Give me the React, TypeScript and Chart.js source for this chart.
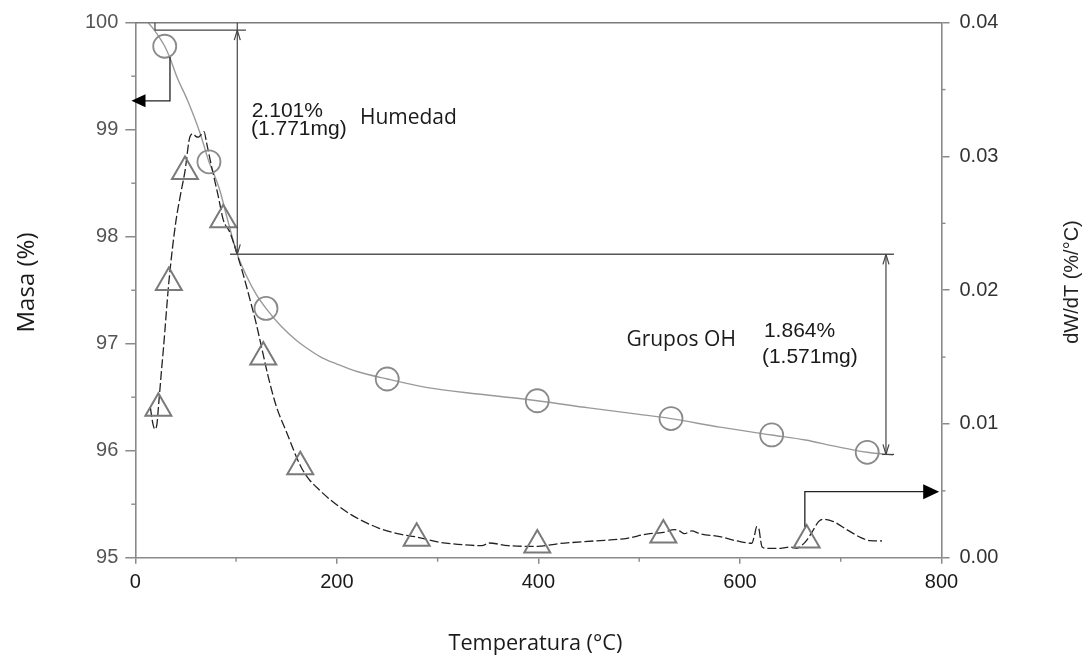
import React, { useEffect, useRef } from 'react';
import { Chart, registerables } from 'chart.js';
Chart.register(...registerables);

// ---- Data ----
const massT = [13, 21.2, 29.2, 34.4, 41, 52, 64.2, 73.1, 77.4, 84, 90.7, 101, 110, 120, 129.7, 145, 160, 170, 185, 200, 220, 250, 290, 340, 398.9, 450, 500, 531.6, 580, 631.5, 665, 695, 726.3, 752];
const massV = [100.0, 99.9, 99.78, 99.67, 99.5, 99.27, 98.97, 98.7, 98.6, 98.43, 98.19, 97.84, 97.64, 97.46, 97.33, 97.16, 97.03, 96.96, 96.87, 96.81, 96.74, 96.67, 96.59, 96.53, 96.467, 96.4, 96.34, 96.3, 96.22, 96.147, 96.1, 96.04, 95.985, 95.96];
const massMarkT = [29.2, 73.1, 129.7, 250, 398.9, 531.6, 631.5, 726.3];
const massMarkV = [99.78, 98.7, 97.33, 96.67, 96.467, 96.3, 96.147, 95.985];

const dtgT = [15, 17.5, 19.5, 21.5, 23, 26, 28, 33.3, 40, 45, 49.3, 54.3, 57.5, 60, 62.5, 65, 68.2, 70.8, 75.8, 82.4, 87.3, 94, 100.6, 107, 113.8, 120, 125.4, 132, 140, 150, 163.7, 172, 183.6, 194, 214.5, 242, 260, 279, 300, 320, 344, 351, 370, 399, 420, 454.8, 488, 507.6, 524, 535, 540, 545, 552, 560, 580, 600, 611.8, 614.5, 616.6, 619, 620.5, 622, 626.5, 640, 650, 656, 661, 666.2, 673, 678, 683, 692.8, 706, 712.7, 720, 729, 741];
const dtgV = [0.0112, 0.01, 0.0096, 0.01, 0.0113, 0.014, 0.0157, 0.0206, 0.025, 0.0272, 0.0289, 0.0315, 0.0317, 0.0315, 0.03144, 0.0316, 0.03186, 0.031, 0.0292, 0.027, 0.02526, 0.0243, 0.0228, 0.0212, 0.0193, 0.0175, 0.0157, 0.0135, 0.0113, 0.0094, 0.0069, 0.0059, 0.005, 0.0043, 0.0032, 0.0022, 0.0018, 0.00155, 0.00118, 0.001, 0.0009, 0.0011, 0.0009, 0.00085, 0.00105, 0.00125, 0.00145, 0.00177, 0.0019, 0.0021, 0.002, 0.0018, 0.002, 0.0018, 0.00157, 0.0012, 0.00108, 0.0017, 0.00232, 0.0021, 0.0013, 0.0008, 0.0007, 0.0007, 0.0008, 0.0007, 0.0009, 0.0013, 0.0021, 0.0027, 0.00287, 0.0027, 0.0021, 0.0018, 0.0015, 0.00127, 0.00125];
const dtgMarkT = [22.9, 33.3, 49.3, 87.3, 127, 163.7, 279.2, 398.9, 524, 666.2];
const dtgMarkV = [0.01117, 0.02057, 0.02887, 0.02526, 0.015, 0.0068, 0.00145, 0.00095, 0.0017, 0.00132];

const xTicks = [0, 200, 400, 600, 800];
const xMinor = [100, 300, 500, 700];
const yTicks = [95, 96, 97, 98, 99, 100];
const yMinor = [95.5, 96.5, 97.5, 98.5, 99.5];
const y2Ticks = [0, 0.01, 0.02, 0.03, 0.04];
const y2Minor = [0.005, 0.015, 0.025, 0.035];

// annotation anchors, in data units
const humBracket = { x0: 19.5, x1: 109.8, y: 99.93 };
const humArrowX = 101.2;
const stepLevel = 97.835;
const stepFrom = 94, stepTo = 752.8;
const ohArrowX = 744.9, ohBottom = 95.965;
const massArrow = { x: 34.4, yFrom: 99.68, yCorner: 99.27, tipX: -3.8 };
const dtgArrow = { x: 664.4, yFrom: 0.00232, yCorner: 0.00494, tipX: 797.7 };
const NUMFONT = '21px "Liberation Sans", Arial, sans-serif';
const WORDFONT = '21px "Open Sans", sans-serif';
const texts = [
  { t: '2.101%', x: 115.5, y: 99.122, font: NUMFONT },
  { t: '(1.771mg)', x: 114.8, y: 98.95, font: NUMFONT },
  { t: 'Humedad', x: 222.9, y: 99.053, font: WORDFONT },
  { t: 'Grupos OH', x: 487.3, y: 96.98, font: WORDFONT },
  { t: '1.864%', x: 623.8, y: 97.065, font: NUMFONT },
  { t: '(1.571mg)', x: 621.8, y: 96.82, font: NUMFONT },
];

const AXIS = '#8a8a8a';
const TICKFONT = '"Liberation Sans", Arial, sans-serif';

const pts = (xs: number[], ys: number[]) => xs.map((x, i) => ({ x, y: ys[i] }));

const overlay = {
  id: 'overlay',
  afterDraw(chart: any) {
    const { ctx, chartArea: ca, scales } = chart;
    const px = (v: number) => scales.x.getPixelForValue(v);
    const py = (v: number) => scales.y.getPixelForValue(v);
    const py2 = (v: number) => scales.y2.getPixelForValue(v);
    const line = (x0: number, y0: number, x1: number, y1: number) => {
      ctx.beginPath(); ctx.moveTo(x0, y0); ctx.lineTo(x1, y1); ctx.stroke();
    };
    ctx.save();
    // top frame
    ctx.strokeStyle = '#7a7a7a'; ctx.lineWidth = 1.6;
    line(ca.left, ca.top, ca.right, ca.top);
    // minor ticks
    ctx.strokeStyle = AXIS; ctx.lineWidth = 1.4;
    yMinor.forEach(v => line(ca.left - 4, py(v), ca.left, py(v)));
    xMinor.forEach(v => line(px(v), ca.bottom, px(v), ca.bottom + 4));
    y2Minor.forEach(v => line(ca.right, py2(v), ca.right + 4, py2(v)));

    // annotation lines
    const openHead = (x: number, y: number, dir: number) => {
      line(x, y, x - 3, y - dir * 10);
      line(x, y, x + 3, y - dir * 10);
    };
    ctx.strokeStyle = '#444'; ctx.lineWidth = 1.2;
    const hb = py(humBracket.y);
    line(px(humBracket.x0), ca.top, px(humBracket.x0), hb);
    line(px(humBracket.x0), hb, px(humBracket.x1), hb);
    const hx = px(humArrowX);
    const sl = py(stepLevel);
    line(hx, ca.top, hx, sl);
    openHead(hx, hb, -1);
    openHead(hx, sl, 1);
    ctx.strokeStyle = '#555'; ctx.lineWidth = 1.5;
    line(px(stepFrom), sl, px(stepTo), sl);
    ctx.strokeStyle = '#444'; ctx.lineWidth = 1.2;
    const ox = px(ohArrowX);
    const ob = py(ohBottom);
    line(ox, sl, ox, ob);
    openHead(ox, sl, -1);
    openHead(ox, ob, 1);
    line(px(ohArrowX - 4), ob, px(ohArrowX + 8), ob);

    // axis indicator arrows
    ctx.strokeStyle = '#222'; ctx.fillStyle = '#000'; ctx.lineWidth = 1.3;
    const mx = px(massArrow.x), my0 = py(massArrow.yFrom), my1 = py(massArrow.yCorner);
    const mtip = px(massArrow.tipX);
    ctx.beginPath(); ctx.moveTo(mx, my0); ctx.lineTo(mx, my1); ctx.lineTo(mtip + 12, my1); ctx.stroke();
    ctx.beginPath(); ctx.moveTo(mtip, my1); ctx.lineTo(mtip + 14, my1 - 6.5); ctx.lineTo(mtip + 14, my1 + 6.5); ctx.closePath(); ctx.fill();
    const dx = px(dtgArrow.x), dy0 = py2(dtgArrow.yFrom), dy1 = py2(dtgArrow.yCorner);
    const dtip = px(dtgArrow.tipX);
    ctx.beginPath(); ctx.moveTo(dx, dy0); ctx.lineTo(dx, dy1); ctx.lineTo(dtip - 14, dy1); ctx.stroke();
    ctx.beginPath(); ctx.moveTo(dtip, dy1); ctx.lineTo(dtip - 16, dy1 - 7.5); ctx.lineTo(dtip - 16, dy1 + 7.5); ctx.closePath(); ctx.fill();

    // annotation texts
    ctx.fillStyle = '#1a1a1a'; ctx.textAlign = 'left'; ctx.textBaseline = 'alphabetic';
    texts.forEach(tx => { ctx.font = tx.font; ctx.fillText(tx.t, px(tx.x), py(tx.y)); });

    // axis titles
    ctx.fillStyle = '#1a1a1a';
    ctx.textAlign = 'center';
    ctx.font = '24px "Open Sans", sans-serif';
    ctx.save(); ctx.translate(33.5, 282.5); ctx.rotate(-Math.PI / 2); ctx.fillText('Masa (%)', 0, 0); ctx.restore();
    ctx.font = '20px "Liberation Sans", Arial, sans-serif';
    ctx.fillStyle = '#222';
    ctx.save(); ctx.translate(1078, 282); ctx.rotate(-Math.PI / 2); ctx.fillText('dW/dT (%/°C)', 0, 0); ctx.restore();
    ctx.fillStyle = '#1a1a1a';
    ctx.font = '21.7px "Open Sans", sans-serif';
    ctx.fillText('Temperatura (°C)', (ca.left + ca.right) / 2 - 3, 650);
    ctx.restore();
  },
};

export default function App() {
  const ref = useRef<HTMLCanvasElement>(null);
  useEffect(() => {
    if (!ref.current) return;
    const chart = new Chart(ref.current, {
      type: 'line',
      data: {
        datasets: [
          { data: pts(massT, massV), yAxisID: 'y', borderColor: '#9a9a9a', borderWidth: 1.4, pointRadius: 0, cubicInterpolationMode: 'monotone', fill: false, order: 4 },
          { data: pts(dtgT, dtgV), yAxisID: 'y2', borderColor: '#222', borderWidth: 1.3, borderDash: [9, 3], pointRadius: 0, cubicInterpolationMode: 'monotone', fill: false, order: 3 },
          { data: pts(massMarkT, massMarkV), yAxisID: 'y', showLine: false, pointStyle: 'circle', pointRadius: 11.5, pointBorderColor: '#8a8a8a', pointBorderWidth: 1.8, pointBackgroundColor: 'rgba(0,0,0,0)', order: 2 },
          { data: pts(dtgMarkT, dtgMarkV), yAxisID: 'y2', showLine: false, pointStyle: 'triangle', pointRadius: 15, pointBorderColor: '#7a7a7a', pointBorderWidth: 2, pointBackgroundColor: 'rgba(0,0,0,0)', order: 1 },
        ] as any,
      },
      options: {
        animation: false,
        responsive: false,
        events: [],
        layout: { padding: { top: 22.7, left: 0, right: 0, bottom: 0 } },
        plugins: { legend: { display: false }, tooltip: { enabled: false } },
        scales: {
          x: {
            type: 'linear', position: 'bottom', min: 0, max: 800,
            afterBuildTicks: (s: any) => { s.ticks = xTicks.map(v => ({ value: v })); },
            ticks: { font: { family: TICKFONT, size: 20 }, color: '#1a1a1a', padding: 7, maxRotation: 0, autoSkip: false },
            grid: { display: true, drawOnChartArea: false, drawTicks: true, tickLength: 6, color: AXIS, lineWidth: 1.5 },
            border: { display: true, color: AXIS, width: 1.6 },
            afterFit: (s: any) => { s.height = 98.3; },
          },
          y: {
            type: 'linear', position: 'left', min: 95, max: 100,
            afterBuildTicks: (s: any) => { s.ticks = yTicks.map(v => ({ value: v })); },
            ticks: { font: { family: TICKFONT, size: 20 }, color: '#555', padding: 7, callback: (v: any) => String(v) },
            grid: { display: true, drawOnChartArea: false, drawTicks: true, tickLength: 10, color: AXIS, lineWidth: 1.5 },
            border: { display: true, color: AXIS, width: 1.6 },
            afterFit: (s: any) => { s.width = 135.3; },
          },
          y2: {
            type: 'linear', position: 'right', min: 0, max: 0.04,
            afterBuildTicks: (s: any) => { s.ticks = y2Ticks.map(v => ({ value: v })); },
            ticks: { font: { family: TICKFONT, size: 20 }, color: '#333', padding: 10, callback: (v: any) => Number(v).toFixed(2) },
            grid: { display: true, drawOnChartArea: false, drawTicks: true, tickLength: 8, color: AXIS, lineWidth: 1.5 },
            border: { display: true, color: AXIS, width: 1.6 },
            afterFit: (s: any) => { s.width = 142.5; },
          },
        },
      } as any,
      plugins: [overlay],
    });
    return () => chart.destroy();
  }, []);
  return (
    <div style={{ position: 'fixed', left: 0, top: 0, width: 1084, height: 656, background: '#fff' }}>
      <canvas ref={ref} width={1084} height={656} style={{ display: 'block' }} />
    </div>
  );
}
